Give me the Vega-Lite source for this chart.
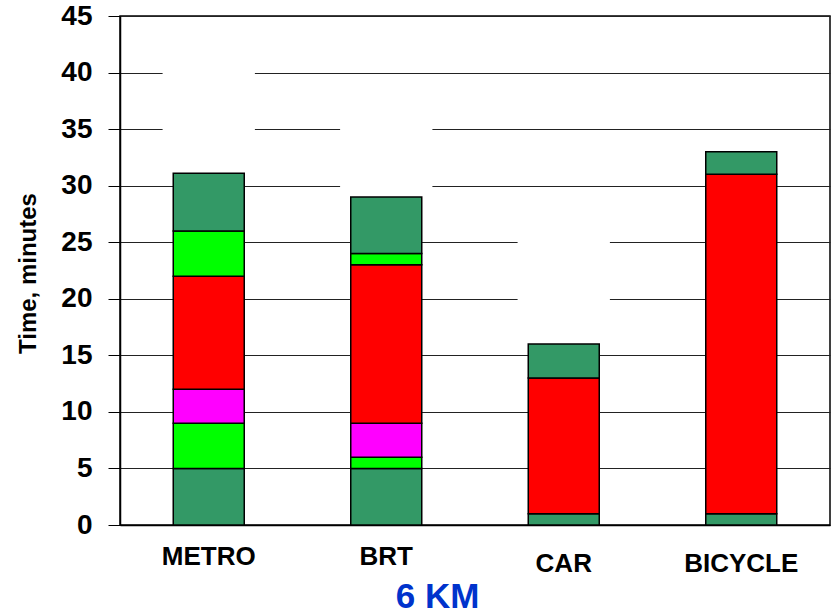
{
  "$schema": "https://vega.github.io/schema/vega-lite/v6.json",
  "width": 710,
  "height": 509,
  "autosize": {"type": "none"},
  "padding": {"left": 120, "top": 16, "right": 3, "bottom": 91},
  "background": "white",
  "config": {
    "font": "Liberation Sans",
    "view": {"stroke": "black", "strokeWidth": 1.5},
    "axis": {"labelFont": "Liberation Sans", "titleFont": "Liberation Sans"}
  },
  "datasets": {
    "legs": [
      {"mode": "METRO", "part": "Walk", "seq": 1, "minutes": 5},
      {"mode": "METRO", "part": "Wait", "seq": 2, "minutes": 4},
      {"mode": "METRO", "part": "Transfer", "seq": 3, "minutes": 3},
      {"mode": "METRO", "part": "Ride", "seq": 4, "minutes": 10},
      {"mode": "METRO", "part": "Wait", "seq": 5, "minutes": 4},
      {"mode": "METRO", "part": "Walk", "seq": 6, "minutes": 5.1},
      {"mode": "BRT", "part": "Walk", "seq": 1, "minutes": 5},
      {"mode": "BRT", "part": "Wait", "seq": 2, "minutes": 1},
      {"mode": "BRT", "part": "Transfer", "seq": 3, "minutes": 3},
      {"mode": "BRT", "part": "Ride", "seq": 4, "minutes": 14},
      {"mode": "BRT", "part": "Wait", "seq": 5, "minutes": 1},
      {"mode": "BRT", "part": "Walk", "seq": 6, "minutes": 5},
      {"mode": "CAR", "part": "Walk", "seq": 1, "minutes": 1},
      {"mode": "CAR", "part": "Ride", "seq": 4, "minutes": 12},
      {"mode": "CAR", "part": "Walk", "seq": 6, "minutes": 3},
      {"mode": "BICYCLE", "part": "Walk", "seq": 1, "minutes": 1},
      {"mode": "BICYCLE", "part": "Ride", "seq": 4, "minutes": 30},
      {"mode": "BICYCLE", "part": "Walk", "seq": 6, "minutes": 2}
    ],
    "blanks": [
      {"mode": "METRO", "from": 31.1, "to": 43},
      {"mode": "BRT", "from": 29, "to": 38},
      {"mode": "CAR", "from": 16, "to": 28}
    ]
  },
  "layer": [
    {
      "data": {"name": "blanks"},
      "mark": {"type": "bar", "fill": "white", "stroke": null, "width": {"band": 1.3}},
      "encoding": {
        "x": {"field": "mode", "type": "nominal", "sort": ["METRO", "BRT", "CAR", "BICYCLE"], "title": "6 KM"},
        "y": {"field": "from", "type": "quantitative", "title": "Time, minutes"},
        "y2": {"field": "to"}
      }
    },
    {
      "data": {"name": "legs"},
      "mark": {"type": "bar", "stroke": "black", "strokeWidth": 1.5},
      "encoding": {
        "x": {
          "field": "mode",
          "type": "nominal",
          "sort": ["METRO", "BRT", "CAR", "BICYCLE"],
          "title": "6 KM",
          "scale": {"paddingInner": 0.6, "paddingOuter": 0.3},
          "axis": {
            "labelAngle": 0,
            "labelAlign": "center",
            "labelFontSize": 26,
            "labelFontWeight": "bold",
            "labelColor": "black",
            "labelBaseline": "top",
            "labelPadding": {"condition": {"test": "datum.value == 'CAR' || datum.value == 'BICYCLE'", "value": 25}, "value": 18},
            "ticks": false,
            "tickSize": 0,
            "domainColor": "black",
            "domainWidth": 1.5,
            "grid": false,
            "titleFontSize": 35,
            "titleFontWeight": "bold",
            "titleColor": "#0033cc",
            "titleX": 317,
            "titleY": 54,
            "titleAlign": "center",
            "titleBaseline": "top"
          }
        },
        "y": {
          "field": "minutes",
          "type": "quantitative",
          "stack": "zero",
          "title": "Time, minutes",
          "scale": {"domain": [0, 45], "nice": false},
          "axis": {
            "values": [0, 5, 10, 15, 20, 25, 30, 35, 40, 45],
            "labelFontSize": 28,
            "labelFontWeight": "bold",
            "labelColor": "black",
            "labelPadding": 16,
            "tickSize": 12,
            "tickColor": "black",
            "domainColor": "black",
            "domainWidth": 1.5,
            "grid": true,
            "gridColor": "#222222",
            "gridWidth": 1,
            "titleFontSize": 24,
            "titleFontWeight": "bold",
            "titleColor": "black",
            "titleX": -85,
            "titleY": 257,
            "titleAngle": -90,
            "titleAlign": "center",
            "titleBaseline": "alphabetic"
          }
        },
        "order": {"field": "seq", "type": "quantitative"},
        "color": {
          "field": "part",
          "type": "nominal",
          "legend": null,
          "scale": {
            "domain": ["Walk", "Wait", "Transfer", "Ride"],
            "range": ["#339966", "#00ff00", "#ff00ff", "#ff0000"]
          }
        }
      }
    }
  ]
}
